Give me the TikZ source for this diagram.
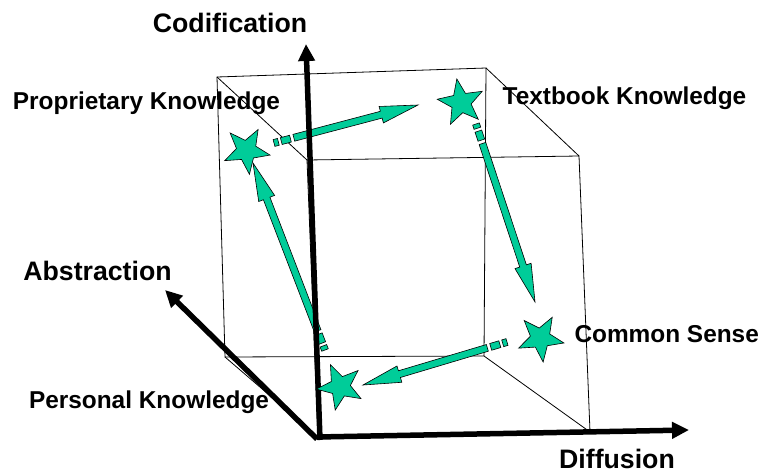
\documentclass[tikz,border=0pt]{standalone}
\usepackage{fontspec}
\setmainfont{Liberation Sans}
\usetikzlibrary{shapes.geometric,arrows.meta,calc}
\definecolor{stargreen}{RGB}{0,204,153}
\newcommand\stripearrow[2]{%
  \coordinate (sa0) at (#1);
  \coordinate (sa1) at ($(#1)!4.5pt!(#2)$);
  \coordinate (sa2) at ($(#1)!7.5pt!(#2)$);
  \coordinate (sa3) at ($(#1)!17pt!(#2)$);
  \coordinate (sa4) at ($(#1)!20.5pt!(#2)$);
  \coordinate (sa5) at ($(#2)!38pt!(#1)$);
  \path[arrfill] ($(sa0)!3.5pt!90:(#2)$) -- ($(sa1)!3.5pt!90:(#2)$) -- ($(sa1)!3.5pt!-90:(#2)$) -- ($(sa0)!3.5pt!-90:(#2)$) -- cycle;
  \path[arrfill] ($(sa2)!3.5pt!90:(#2)$) -- ($(sa3)!3.5pt!90:(#2)$) -- ($(sa3)!3.5pt!-90:(#2)$) -- ($(sa2)!3.5pt!-90:(#2)$) -- cycle;
  \path[arrfill] ($(sa4)!3.5pt!90:(#2)$) -- ($(sa5)!3.5pt!90:(#2)$) -- ($(sa5)!8.5pt!90:(#2)$) -- (#2)
     -- ($(sa5)!8.5pt!-90:(#2)$) -- ($(sa5)!3.5pt!-90:(#2)$) -- ($(sa4)!3.5pt!-90:(#2)$) -- cycle;
}
\begin{document}
\begin{tikzpicture}[x=1pt,y=-1pt,
  cube/.style={line width=0.8pt, draw=black},
  axis/.style={line width=5.5pt, draw=black, -{Triangle[length=17pt,width=16pt]}},
  lbl/.style={font=\bfseries\fontsize{24.4}{28}\selectfont, inner sep=0pt, anchor=base},
  axlbl/.style={font=\bfseries\fontsize{26.7}{30}\selectfont, inner sep=0pt, anchor=base},
  kstar/.style={star, star points=5, star point ratio=2.35, minimum size=48pt, inner sep=0pt,
                fill=stargreen, draw=black, line width=0.6pt},
  arrfill/.style={fill=stargreen, draw=black, line width=0.6pt}
]
\useasboundingbox (0,0) rectangle (762,474);

% cube corners
\coordinate (b1) at (217,77);
\coordinate (b2) at (486,68);
\coordinate (b3) at (484,356);
\coordinate (b4) at (225,357);
\coordinate (f1) at (307,160);
\coordinate (f2) at (579,156);
\coordinate (f3) at (590,432);
\coordinate (f4) at (318,437);

\draw[cube] (b1) -- (b2) -- (b3) -- (b4) -- cycle;
\draw[cube] (f1) -- (f2) -- (f3) -- (f4) -- cycle;
\draw[cube] (b1) -- (f1);
\draw[cube] (b2) -- (f2);
\draw[cube] (b3) -- (f3);
\draw[cube] (b4) -- (f4);

% striped arrows
\coordinate (a1s) at (274,143); \coordinate (a1e) at (418,105);
\coordinate (a2s) at (476,124); \coordinate (a2e) at (535,302);
\coordinate (a3s) at (507,342); \coordinate (a3e) at (363,385);
\coordinate (a4s) at (325,350); \coordinate (a4e) at (253,163);
\stripearrow{a1s}{a1e}
\stripearrow{a2s}{a2e}
\stripearrow{a3s}{a3e}
\stripearrow{a4s}{a4e}

% axes
\coordinate (ocod) at (320,440);
\coordinate (codtip) at (306,44);
\coordinate (odif) at (317,437);
\coordinate (diftip) at (689,430);
\coordinate (oabs) at (317,439);
\coordinate (abstip) at (165,290);
\draw[axis] (ocod) -- (codtip);
\draw[axis] (odif) -- (diftip);
\draw[axis] (oabs) -- (abstip);

% stars
\node[kstar, rotate=187] (sprop) at (246.5,150.5) {};
\node[kstar, rotate=10] (stext) at (461,102.6) {};
\node[kstar, rotate=186.5] (scommon) at (540.4,338.2) {};
\node[kstar, rotate=168] (spers) at (340.2,386.6) {};

% labels
\node[axlbl] (lcod) at (230,32) {Codification};
\node[axlbl] (labs) at (97.5,280) {Abstraction};
\node[axlbl] (ldif) at (617,468) {Diffusion};
\node[lbl] (lprop) at (146.5,109) {Proprietary Knowledge};
\node[lbl] (ltext) at (624.5,104) {Textbook Knowledge};
\node[lbl] (lcommon) at (666.7,342) {Common Sense};
\node[lbl] (lpers) at (149,408) {Personal Knowledge};
\end{tikzpicture}
\end{document}
